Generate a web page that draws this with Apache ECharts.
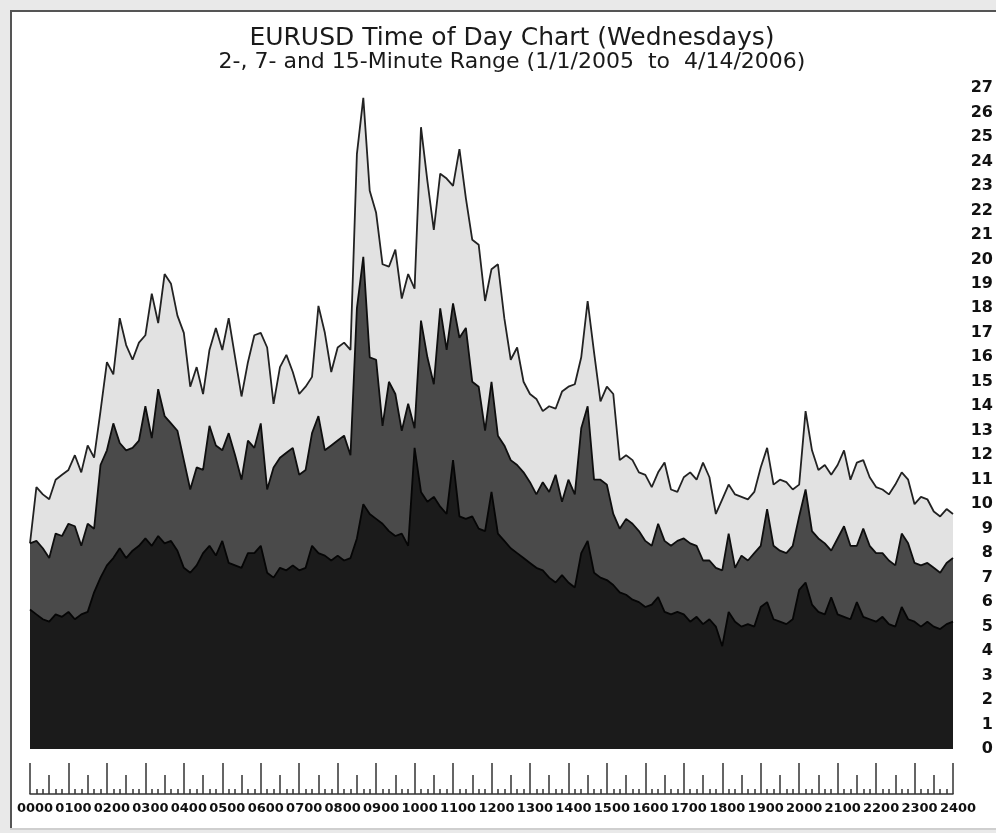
<!DOCTYPE html>
<html>
<head>
<meta charset="utf-8">
<script src="https://cdn.jsdelivr.net/npm/echarts@6/dist/echarts.min.js"></script>
<style>
  html, body { margin: 0; padding: 0; background: #e9e9e9; }
  #chart { width: 996px; height: 833px; }
</style>
</head>
<body>
<div id="chart"></div>
<script>
// sample step of the series, minutes from 0000
const stepMinutes = 10

// 15-minute range (light gray, back)
const range15 = [
  8.4, 10.7, 10.4, 10.2, 11.0, 11.2, 11.4, 12.0, 11.3, 12.4,
  11.9, 13.8, 15.8, 15.3, 17.6, 16.5, 15.9, 16.6, 16.9, 18.6,
  17.4, 19.4, 19.0, 17.7, 17.0, 14.8, 15.6, 14.5, 16.3, 17.2,
  16.3, 17.6, 16.0, 14.4, 15.8, 16.9, 17.0, 16.4, 14.1, 15.6,
  16.1, 15.4, 14.5, 14.8, 15.2, 18.1, 17.0, 15.4, 16.4, 16.6,
  16.3, 24.3, 26.6, 22.8, 21.9, 19.8, 19.7, 20.4, 18.4, 19.4,
  18.8, 25.4, 23.2, 21.2, 23.5, 23.3, 23.0, 24.5, 22.5, 20.8,
  20.6, 18.3, 19.6, 19.8, 17.6, 15.9, 16.4, 15.0, 14.5, 14.3,
  13.8, 14.0, 13.9, 14.6, 14.8, 14.9, 16.0, 18.3, 16.2, 14.2,
  14.8, 14.5, 11.8, 12.0, 11.8, 11.3, 11.2, 10.7, 11.3, 11.7,
  10.6, 10.5, 11.1, 11.3, 11.0, 11.7, 11.1, 9.6, 10.2, 10.8,
  10.4, 10.3, 10.2, 10.5, 11.5, 12.3, 10.8, 11.0, 10.9, 10.6,
  10.8, 13.8, 12.2, 11.4, 11.6, 11.2, 11.6, 12.2, 11.0, 11.7,
  11.8, 11.1, 10.7, 10.6, 10.4, 10.8, 11.3, 11.0, 10.0, 10.3,
  10.2, 9.7, 9.5, 9.8, 9.6
]

// 7-minute range (dark gray, middle)
const range7 = [
  8.4, 8.5, 8.2, 7.8, 8.8, 8.7, 9.2, 9.1, 8.3, 9.2,
  9.0, 11.6, 12.2, 13.3, 12.5, 12.2, 12.3, 12.6, 14.0, 12.7,
  14.7, 13.6, 13.3, 13.0, 11.8, 10.6, 11.5, 11.4, 13.2, 12.4,
  12.2, 12.9, 12.0, 11.0, 12.6, 12.3, 13.3, 10.6, 11.5, 11.9,
  12.1, 12.3, 11.2, 11.4, 12.9, 13.6, 12.2, 12.4, 12.6, 12.8,
  12.0, 18.0, 20.1, 16.0, 15.9, 13.2, 15.0, 14.5, 13.0, 14.1,
  13.1, 17.5, 16.0, 14.9, 18.0, 16.3, 18.2, 16.8, 17.2, 15.0,
  14.8, 13.0, 15.0, 12.8, 12.4, 11.8, 11.6, 11.3, 10.9, 10.4,
  10.9, 10.5, 11.2, 10.1, 11.0, 10.4, 13.1, 14.0, 11.0, 11.0,
  10.8, 9.6, 9.0, 9.4, 9.2, 8.9, 8.5, 8.3, 9.2, 8.5,
  8.3, 8.5, 8.6, 8.4, 8.3, 7.7, 7.7, 7.4, 7.3, 8.8,
  7.4, 7.9, 7.7, 8.0, 8.3, 9.8, 8.3, 8.1, 8.0, 8.3,
  9.5, 10.6, 8.9, 8.6, 8.4, 8.1, 8.6, 9.1, 8.3, 8.3,
  9.0, 8.3, 8.0, 8.0, 7.7, 7.5, 8.8, 8.4, 7.6, 7.5,
  7.6, 7.4, 7.2, 7.6, 7.8
]

// 2-minute range (near black, front)
const range2 = [
  5.7, 5.5, 5.3, 5.2, 5.5, 5.4, 5.6, 5.3, 5.5, 5.6,
  6.4, 7.0, 7.5, 7.8, 8.2, 7.8, 8.1, 8.3, 8.6, 8.3,
  8.7, 8.4, 8.5, 8.1, 7.4, 7.2, 7.5, 8.0, 8.3, 7.9,
  8.5, 7.6, 7.5, 7.4, 8.0, 8.0, 8.3, 7.2, 7.0, 7.4,
  7.3, 7.5, 7.3, 7.4, 8.3, 8.0, 7.9, 7.7, 7.9, 7.7,
  7.8, 8.6, 10.0, 9.6, 9.4, 9.2, 8.9, 8.7, 8.8, 8.3,
  12.3, 10.5, 10.1, 10.3, 9.9, 9.6, 11.8, 9.5, 9.4, 9.5,
  9.0, 8.9, 10.5, 8.8, 8.5, 8.2, 8.0, 7.8, 7.6, 7.4,
  7.3, 7.0, 6.8, 7.1, 6.8, 6.6, 8.0, 8.5, 7.2, 7.0,
  6.9, 6.7, 6.4, 6.3, 6.1, 6.0, 5.8, 5.9, 6.2, 5.6,
  5.5, 5.6, 5.5, 5.2, 5.4, 5.1, 5.3, 5.0, 4.2, 5.6,
  5.2, 5.0, 5.1, 5.0, 5.8, 6.0, 5.3, 5.2, 5.1, 5.3,
  6.5, 6.8, 5.9, 5.6, 5.5, 6.2, 5.5, 5.4, 5.3, 6.0,
  5.4, 5.3, 5.2, 5.4, 5.1, 5.0, 5.8, 5.3, 5.2, 5.0,
  5.2, 5.0, 4.9, 5.1, 5.2
]

const titleText = 'EURUSD Time of Day Chart (Wednesdays)'
const subtitleText = '2-, 7- and 15-Minute Range (1/1/2005  to  4/14/2006)'

function toPairs(values) {
  return values.map((v, i) => [i * stepMinutes, v])
}

function hhmm(minutes) {
  const h = Math.round(minutes / 60)
  return (h < 10 ? '0' : '') + h + '00'
}

const chartDom = document.getElementById('chart')
const chart = echarts.init(chartDom, null, { renderer: 'canvas' })

const areaSeries = (name, values, fill, line) => ({
  name,
  type: 'line',
  xAxisIndex: 0,
  yAxisIndex: 0,
  data: toPairs(values),
  symbol: 'none',
  smooth: false,
  lineStyle: { color: line, width: 1.8 },
  areaStyle: { color: fill, opacity: 1 },
  silent: true
})

const option = {
  animation: false,
  backgroundColor: '#e9e9e9',
  graphic: [
    // sunken frame
    { type: 'rect', shape: { x: 12, y: 12, width: 990, height: 816 }, style: { fill: '#ffffff' }, z: -10 },
    { type: 'line', shape: { x1: 10, y1: 11, x2: 996, y2: 11 }, style: { stroke: '#555555', lineWidth: 2 }, z: -9 },
    { type: 'line', shape: { x1: 11, y1: 10, x2: 11, y2: 829 }, style: { stroke: '#555555', lineWidth: 2 }, z: -9 },
    { type: 'line', shape: { x1: 10, y1: 829, x2: 996, y2: 829 }, style: { stroke: '#cfcfcf', lineWidth: 2 }, z: -9 },
    {
      type: 'text', x: 512, y: 38,
      style: {
        text: titleText, textAlign: 'center', textVerticalAlign: 'middle',
        font: '25px "DejaVu Sans", sans-serif', fill: '#1a1a1a'
      }
    },
    {
      type: 'text', x: 512, y: 62,
      style: {
        text: subtitleText, textAlign: 'center', textVerticalAlign: 'middle',
        font: '22px "DejaVu Sans", sans-serif', fill: '#1a1a1a'
      }
    }
  ],
  grid: [
    { left: 30, top: 88, width: 923, height: 661 },
    { left: 30, top: 763, width: 923, height: 31 }
  ],
  xAxis: [
    { gridIndex: 0, type: 'value', min: 0, max: 1440, show: false },
    {
      gridIndex: 1, type: 'value', min: 0, max: 1440, interval: 60, position: 'bottom',
      axisLine: { show: true, lineStyle: { color: '#333333', width: 1.5 } },
      axisTick: { show: true, inside: true, length: 31, lineStyle: { color: '#333333', width: 1.5 } },
      minorTick: { show: true, splitNumber: 2, length: 19, lineStyle: { color: '#333333', width: 1.5 } },
      splitLine: { show: false },
      axisLabel: {
        formatter: hhmm, margin: 8, padding: [0, 0, 0, 10],
        fontFamily: '"DejaVu Sans", Verdana, sans-serif', fontWeight: 'bold', fontSize: 13, color: '#111111'
      }
    },
    {
      gridIndex: 1, type: 'value', min: 0, max: 1440, interval: 10, position: 'bottom',
      axisLine: { show: false },
      axisTick: { show: true, inside: true, length: 5, lineStyle: { color: '#333333', width: 1.5 } },
      axisLabel: { show: false },
      splitLine: { show: false }
    }
  ],
  yAxis: [
    {
      gridIndex: 0, type: 'value', min: 0, max: 27, interval: 1, position: 'right',
      axisLine: { show: false },
      axisTick: { show: false },
      splitLine: { show: false },
      axisLabel: {
        align: 'right', margin: 40,
        fontFamily: '"DejaVu Sans", Verdana, sans-serif', fontWeight: 'bold', fontSize: 16, color: '#111111'
      }
    },
    { gridIndex: 1, type: 'value', show: false }
  ],
  series: [
    areaSeries('15-Minute Range', range15, '#e2e2e2', '#222222'),
    areaSeries('7-Minute Range', range7, '#4a4a4a', '#0e0e0e'),
    areaSeries('2-Minute Range', range2, '#1b1b1b', '#050505')
  ]
}

chart.setOption(option)

window.addEventListener('resize', () => chart.resize())
</script>
</body>
</html>
